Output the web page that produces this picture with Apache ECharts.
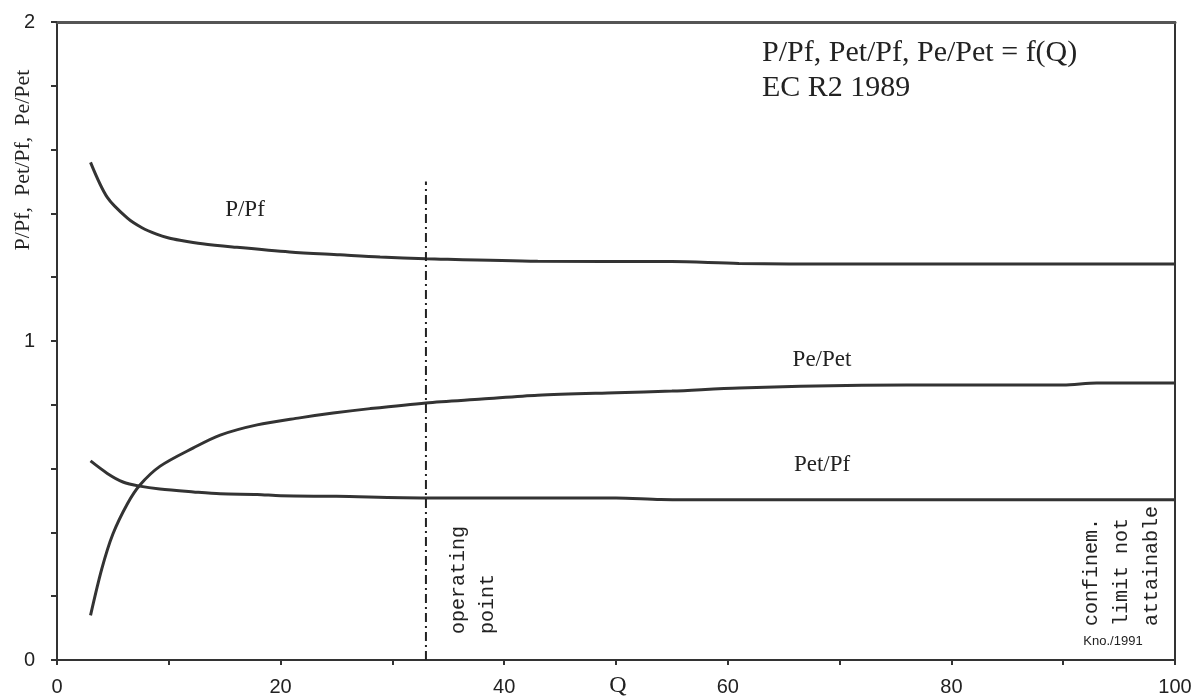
<!DOCTYPE html>
<html>
<head>
<meta charset="utf-8">
<style>
  html, body { margin: 0; padding: 0; background: #fff; }
  #chart { width: 1199px; height: 698px; }
</style>
<script src="https://cdn.jsdelivr.net/npm/echarts@6/dist/echarts.min.js"></script>
</head>
<body>
<div id="chart"></div>
<script>
// P/Pf against Q
const qP = [3, 4.5, 6.3, 7.6, 8.9, 10, 11, 13, 15.7, 20.8, 25.3, 28.9, 33, 43, 55, 61, 70, 80, 90, 100]
const vP = [1.56, 1.45, 1.385, 1.355, 1.335, 1.323, 1.316, 1.305, 1.295, 1.279, 1.27, 1.263, 1.258, 1.25, 1.249, 1.243, 1.241, 1.241, 1.241, 1.241]

// Pe/Pet against Q
const qPe = [3, 4, 5, 6.3, 7.4, 9.2, 12.2, 14.6, 17.9, 21.7, 24.7, 28, 33, 38, 43, 50, 55, 61, 72, 80, 90, 93, 100]
const vPe = [0.14, 0.285, 0.395, 0.49, 0.548, 0.607, 0.665, 0.705, 0.737, 0.759, 0.774, 0.788, 0.806, 0.818, 0.83, 0.838, 0.843, 0.853, 0.861, 0.862, 0.862, 0.868, 0.868]

// Pet/Pf against Q
const qPet = [3, 4.5, 5.9, 7.4, 9.2, 12.2, 14.6, 17.9, 20, 25, 33, 40, 50, 54, 60, 70, 80, 90, 100]
const vPet = [0.624, 0.585, 0.558, 0.545, 0.536, 0.527, 0.521, 0.519, 0.515, 0.513, 0.508, 0.508, 0.508, 0.503, 0.502, 0.502, 0.502, 0.502, 0.502]

// operating point marker
const opQ = 33
const opTop = 1.5

const xTickLabels = [0, 20, 40, 60, 80, 100]
const yTickLabels = [0, 1, 2]

const ink = '#333'
const serif = '"Liberation Serif", "DejaVu Serif", serif'
const sans = '"Liberation Sans", Arial, sans-serif'
const mono = '"Liberation Mono", "DejaVu Sans Mono", monospace'

const zip = (xs, ys) => xs.map((x, i) => [x, ys[i]])

const curve = (name, xs, ys) => ({
  name,
  type: 'line',
  smooth: 0.3,
  showSymbol: false,
  data: zip(xs, ys),
  lineStyle: { color: ink, width: 3 },
  silent: true
})

const chart = echarts.init(document.getElementById('chart'))
chart.setOption({
  animation: false,
  backgroundColor: '#fff',
  grid: { left: 57, right: 24, top: 22, bottom: 38 },
  xAxis: [
    {
      type: 'value',
      min: 0,
      max: 100,
      interval: 10,
      axisLine: { show: true, lineStyle: { color: ink, width: 2 } },
      axisTick: { length: 5, lineStyle: { color: ink, width: 2 } },
      splitLine: { show: false },
      axisLabel: {
        color: '#222',
        fontFamily: sans,
        fontSize: 20,
        margin: 17,
        formatter: v => (xTickLabels.includes(v) ? String(v) : '')
      }
    },
    {
      type: 'value',
      position: 'top',
      min: 0,
      max: 100,
      axisLine: { show: true, onZero: false, lineStyle: { color: '#555', width: 3 } },
      axisTick: { show: false },
      axisLabel: { show: false },
      splitLine: { show: false }
    }
  ],
  yAxis: [
    {
      type: 'value',
      min: 0,
      max: 2,
      interval: 0.2,
      axisLine: { show: true, lineStyle: { color: ink, width: 2 } },
      axisTick: { show: true, length: 6, lineStyle: { color: ink, width: 2 } },
      splitLine: { show: false },
      axisLabel: {
        color: '#222',
        fontFamily: sans,
        fontSize: 20,
        margin: 22,
        formatter: v => (yTickLabels.some(t => Math.abs(t - v) < 1e-6) ? String(Math.round(v)) : '')
      }
    },
    {
      type: 'value',
      position: 'right',
      min: 0,
      max: 2,
      axisLine: { show: true, onZero: false, lineStyle: { color: ink, width: 2 } },
      axisTick: { show: false },
      axisLabel: { show: false },
      splitLine: { show: false }
    }
  ],
  series: [
    curve('P/Pf', qP, vP),
    curve('Pe/Pet', qPe, vPe),
    curve('Pet/Pf', qPet, vPet),
    {
      name: 'operating point',
      type: 'line',
      showSymbol: false,
      data: [[opQ, 0], [opQ, opTop]],
      lineStyle: { color: '#222', width: 2, type: [9, 4, 2, 4] },
      silent: true
    }
  ],
  graphic: [
    {
      type: 'text', left: 762, top: 36,
      style: { text: 'P/Pf, Pet/Pf, Pe/Pet = f(Q)\nEC R2 1989', font: '30px ' + serif, fill: '#222', lineHeight: 35 }
    },
    {
      type: 'text', x: 23, y: 160, rotation: Math.PI / 2,
      style: { text: 'P/Pf,  Pet/Pf,  Pe/Pet', font: '22px ' + serif, fill: '#222', align: 'center', verticalAlign: 'middle' }
    },
    {
      type: 'text', x: 618, y: 686,
      style: { text: 'Q', font: '24px ' + serif, fill: '#222', align: 'center', verticalAlign: 'middle' }
    },
    {
      type: 'text', x: 245, y: 210,
      style: { text: 'P/Pf', font: '23px ' + serif, fill: '#222', align: 'center', verticalAlign: 'middle' }
    },
    {
      type: 'text', x: 822, y: 360,
      style: { text: 'Pe/Pet', font: '23px ' + serif, fill: '#222', align: 'center', verticalAlign: 'middle' }
    },
    {
      type: 'text', x: 822, y: 465,
      style: { text: 'Pet/Pf', font: '23px ' + serif, fill: '#222', align: 'center', verticalAlign: 'middle' }
    },
    {
      type: 'text', x: 444, y: 634, rotation: Math.PI / 2,
      style: { text: 'operating\npoint', font: '20px ' + mono, fill: '#222', align: 'left', verticalAlign: 'top', lineHeight: 29 }
    },
    {
      type: 'text', x: 1077, y: 626, rotation: Math.PI / 2,
      style: { text: 'confinem.\nlimit not\nattainable', font: '20px ' + mono, fill: '#222', align: 'left', verticalAlign: 'top', lineHeight: 30 }
    },
    {
      type: 'text', x: 1113, y: 641,
      style: { text: 'Kno./1991', font: '13px ' + sans, fill: '#222', align: 'center', verticalAlign: 'middle' }
    }
  ]
})
</script>
</body>
</html>
